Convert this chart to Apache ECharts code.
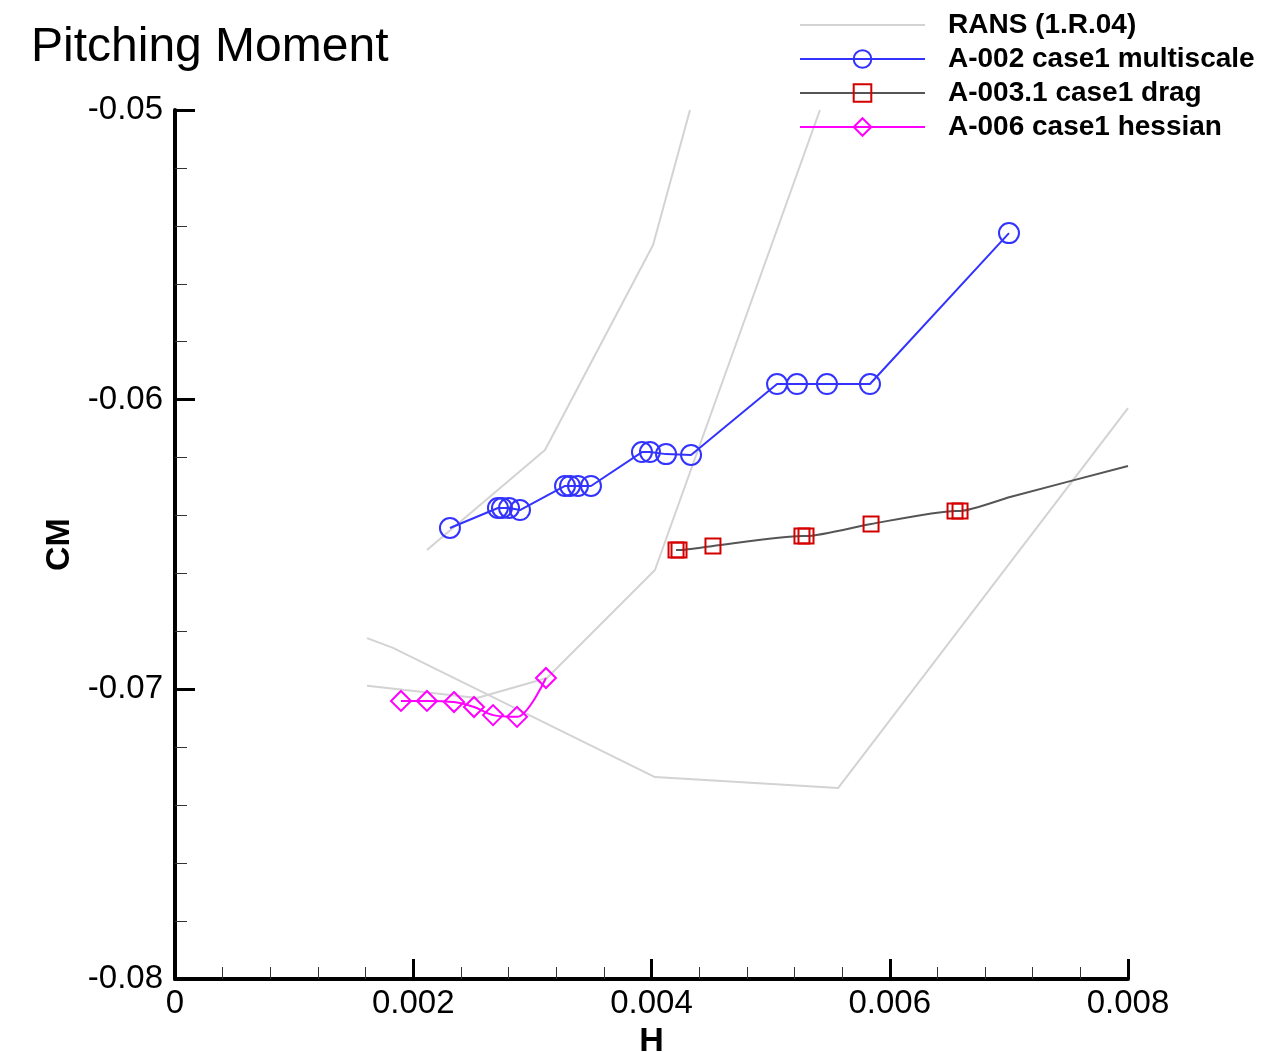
<!DOCTYPE html>
<html><head><meta charset="utf-8">
<style>html,body{margin:0;padding:0;background:#fff;overflow:hidden}#c{width:1267px;height:1052px}</style>
<script src="https://cdn.jsdelivr.net/npm/echarts@6/dist/echarts.min.js"></script>
</head><body><div id="c"></div>
<script>
// ---- tick values ----
const xTicks = [0, 0.002, 0.004, 0.006, 0.008];
const yTicks = [-0.08, -0.07, -0.06, -0.05];

// ---- RANS (1.R.04): three gray polylines ----
const ransA_H  = [0.002115, 0.003106, 0.004013, 0.004323];
const ransA_CM = [-0.06519, -0.06174, -0.05466, -0.05];
const ransB_H  = [0.001612, 0.00183, 0.004029, 0.005566, 0.0080];
const ransB_CM = [-0.06823, -0.06857, -0.07303, -0.07341, -0.06029];
const ransC_H  = [0.001612, 0.002535, 0.003123, 0.004029, 0.005414];
const ransC_CM = [-0.06988, -0.0703, -0.06961, -0.06588, -0.05];

// ---- A-002 case1 multiscale ----
const a002_H  = [0.002308, 0.002711, 0.002745, 0.002804, 0.002896, 0.003274, 0.003316, 0.003383, 0.003492,
                 0.00392, 0.003987, 0.004122, 0.004332, 0.005054, 0.005221, 0.005473, 0.005834, 0.007001];
const a002_CM = [-0.06443, -0.06374, -0.06374, -0.06374, -0.06381, -0.06298, -0.06298, -0.06298, -0.06298,
                 -0.06181, -0.06181, -0.06188, -0.06191, -0.05946, -0.05946, -0.05946, -0.05946, -0.05425];

// ---- A-003.1 case1 drag (marked points + unmarked curve continuation) ----
const a003_H  = [0.004206, 0.004231, 0.004516, 0.005263, 0.005297, 0.005843, 0.006548, 0.00659];
const a003_CM = [-0.06519, -0.06519, -0.06505, -0.06471, -0.06471, -0.06429, -0.06384, -0.06384];
const a003Tail_H  = [0.00701, 0.0080];
const a003Tail_CM = [-0.06336, -0.06229];

// ---- A-006 case1 hessian ----
const a006_H  = [0.001897, 0.002115, 0.002342, 0.00251, 0.00267, 0.002871, 0.003114];
const a006_CM = [-0.0704, -0.0704, -0.07044, -0.07061, -0.07089, -0.07095, -0.06961];

const zip = (h, c) => h.map((v, i) => [v, c[i]]);
const FONT = '"Liberation Sans", Arial, Helvetica, sans-serif';
const RANS = 'RANS (1.R.04)';
const ransStyle = { color: '#d3d3d3', width: 2 };

const chart = echarts.init(document.getElementById('c'));
chart.setOption({
  animation: false,
  backgroundColor: '#fff',
  title: {
    text: 'Pitching Moment', left: 26, top: 19,
    textStyle: { fontFamily: FONT, fontSize: 48, fontWeight: 'normal', color: '#000' }
  },
  legend: {
    orient: 'vertical', left: 794, top: 5,
    itemWidth: 125, itemHeight: 22, itemGap: 4,
    textStyle: { fontFamily: FONT, fontSize: 28, fontWeight: 'bold', color: '#000', lineHeight: 30, padding: [0, 0, 0, 18] },
    data: [
      { name: RANS, itemStyle: { opacity: 0 } },
      { name: 'A-002 case1 multiscale' },
      { name: 'A-003.1 case1 drag' },
      { name: 'A-006 case1 hessian' }
    ]
  },
  grid: { left: 175, right: 139, top: 110, bottom: 73, containLabel: false, outerBoundsMode: 'none' },
  xAxis: {
    type: 'value', min: xTicks[0], max: xTicks[xTicks.length - 1], interval: 0.002,
    name: 'H', nameLocation: 'middle', nameGap: 44,
    nameTextStyle: { fontFamily: FONT, fontSize: 34, fontWeight: 'bold', color: '#000' },
    axisLine: { onZero: false, lineStyle: { color: '#000', width: 4 } },
    axisTick: { inside: true, length: 20, lineStyle: { color: '#000', width: 3 } },
    minorTick: { show: true, splitNumber: 5, length: 12, lineStyle: { color: '#333', width: 1 } },
    splitLine: { show: false },
    axisLabel: { fontFamily: FONT, fontSize: 33, color: '#000', margin: 8 }
  },
  yAxis: {
    type: 'value', min: yTicks[0], max: yTicks[yTicks.length - 1], interval: 0.01,
    name: 'CM', nameLocation: 'middle', nameGap: 95, nameRotate: 90,
    nameTextStyle: { fontFamily: FONT, fontSize: 34, fontWeight: 'bold', color: '#000' },
    axisLine: { onZero: false, lineStyle: { color: '#000', width: 4 } },
    axisTick: { inside: true, length: 20, lineStyle: { color: '#000', width: 3 } },
    minorTick: { show: true, splitNumber: 5, length: 12, lineStyle: { color: '#333', width: 1 } },
    splitLine: { show: false },
    axisLabel: { fontFamily: FONT, fontSize: 33, color: '#000', margin: 12 }
  },
  series: [
    { name: RANS, type: 'line', data: zip(ransA_H, ransA_CM), symbol: 'none', lineStyle: ransStyle, itemStyle: { color: '#d3d3d3' }, clip: true, z: 1 },
    { name: RANS, type: 'line', data: zip(ransB_H, ransB_CM), symbol: 'none', lineStyle: ransStyle, itemStyle: { color: '#d3d3d3' }, clip: true, z: 1 },
    { name: RANS, type: 'line', data: zip(ransC_H, ransC_CM), symbol: 'none', lineStyle: ransStyle, itemStyle: { color: '#d3d3d3' }, clip: true, z: 1 },
    {
      name: 'A-002 case1 multiscale', type: 'line', data: zip(a002_H, a002_CM),
      symbol: 'circle', symbolSize: 20,
      lineStyle: { color: '#3333ff', width: 2 },
      itemStyle: { color: 'rgba(0,0,0,0)', borderColor: '#3333ff', borderWidth: 2 }, z: 3
    },
    {
      name: 'A-003.1 case1 drag', type: 'line',
      data: zip(a003_H, a003_CM).concat(zip(a003Tail_H, a003Tail_CM).map(p => ({ value: p, symbol: 'none' }))),
      symbol: 'rect', symbolSize: 15, smooth: 0.2,
      lineStyle: { color: '#555555', width: 2 },
      itemStyle: { color: 'rgba(0,0,0,0)', borderColor: '#d40000', borderWidth: 2 }, z: 3
    },
    {
      name: 'A-006 case1 hessian', type: 'line', data: zip(a006_H, a006_CM),
      symbol: 'diamond', symbolSize: 20, smooth: 0.3,
      lineStyle: { color: '#ff00ff', width: 2 },
      itemStyle: { color: 'rgba(0,0,0,0)', borderColor: '#ff00ff', borderWidth: 2 }, z: 3
    }
  ]
});
</script>
</body></html>
